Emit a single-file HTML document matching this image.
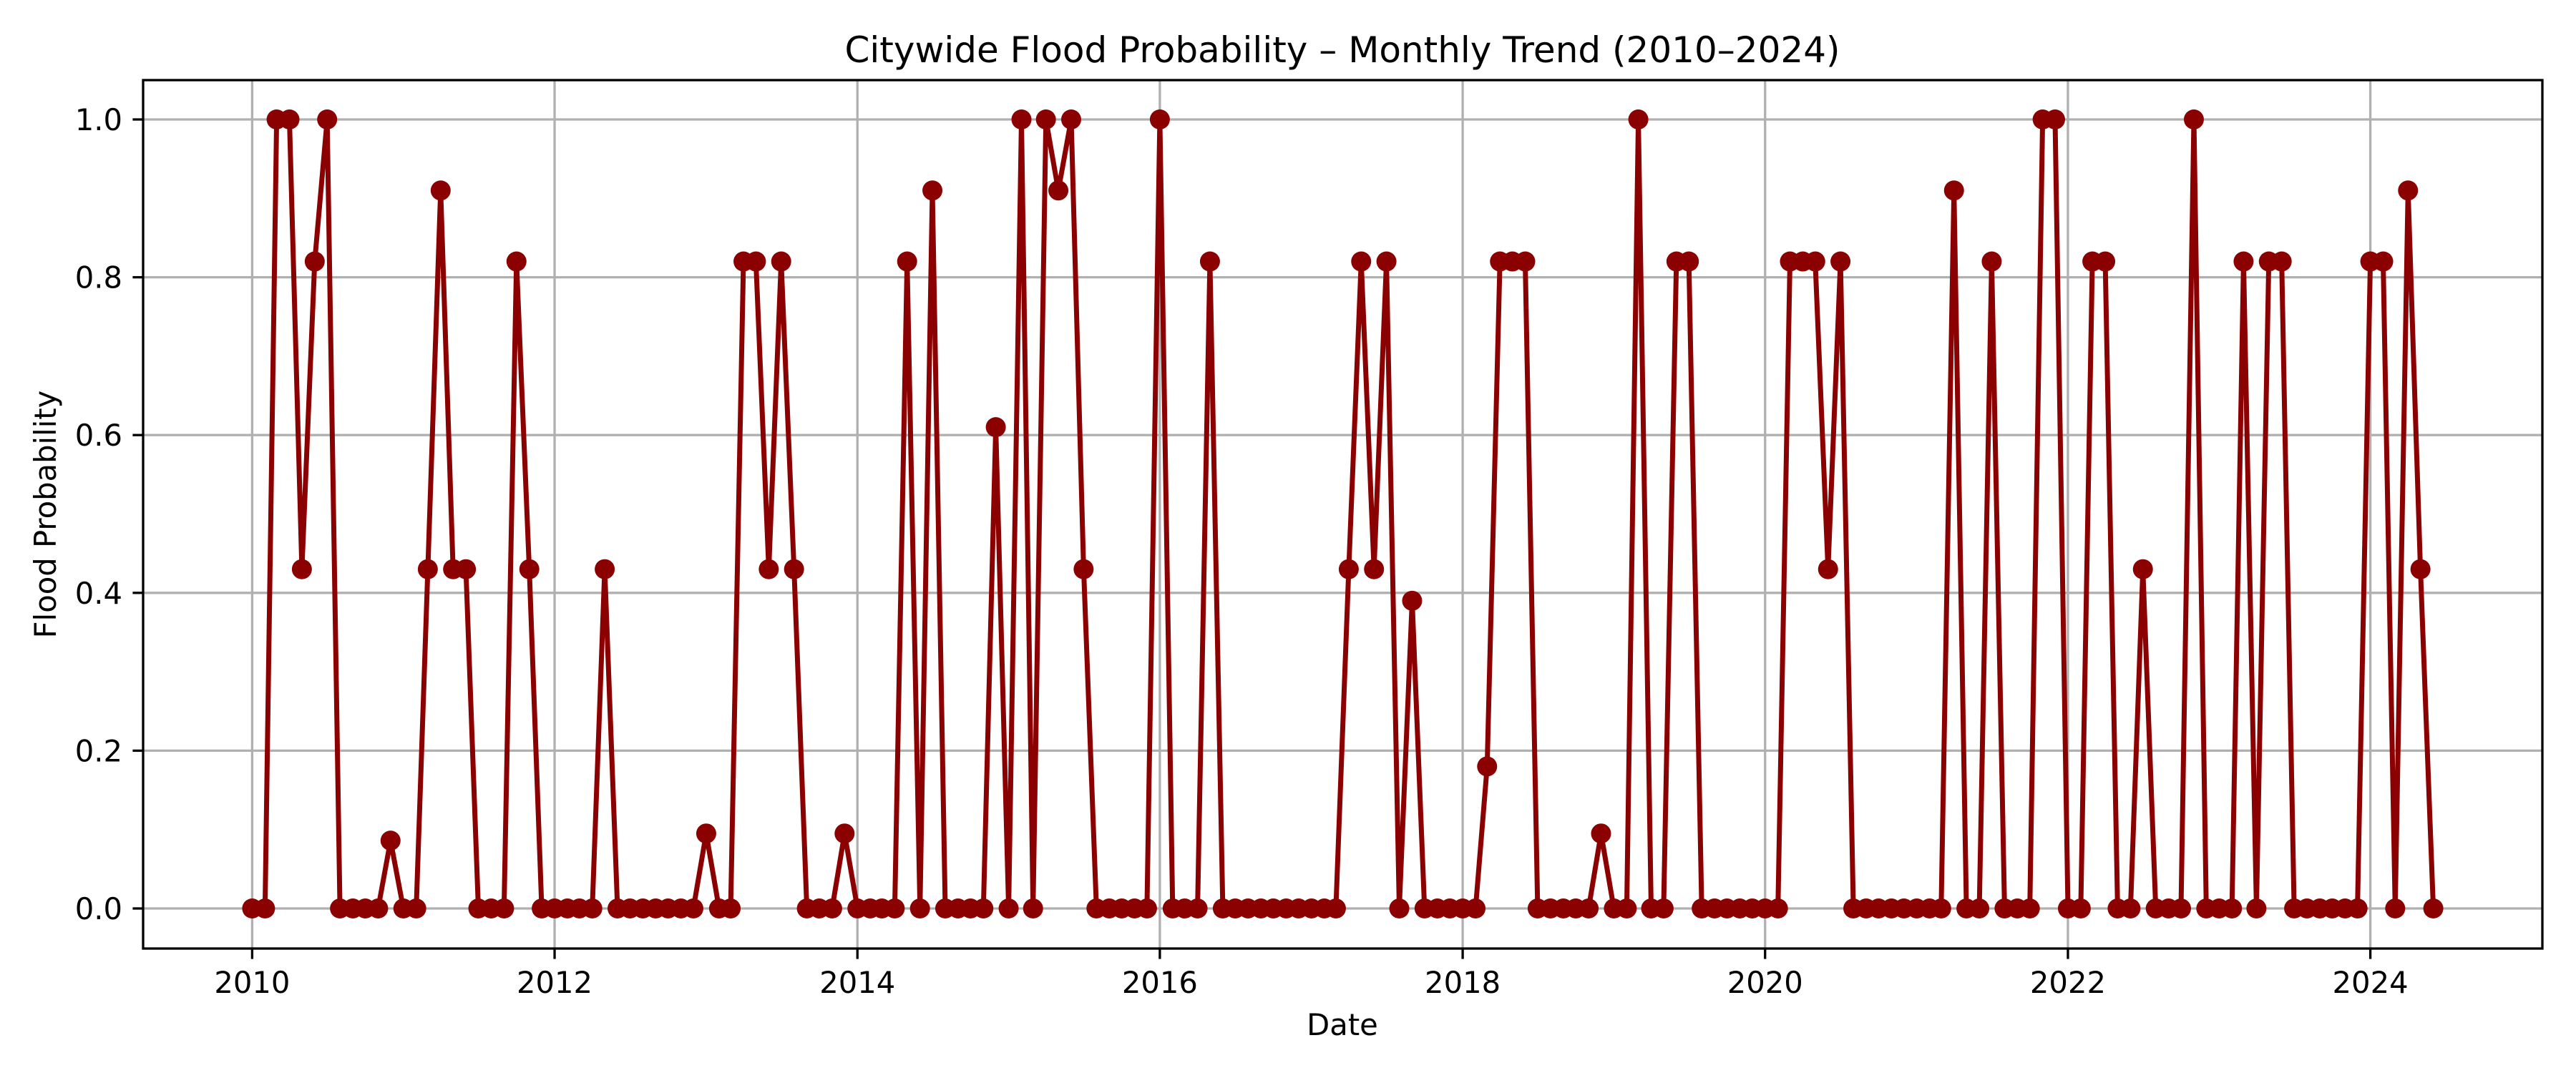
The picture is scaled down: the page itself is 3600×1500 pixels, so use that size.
<!DOCTYPE html>
<html><head><meta charset="utf-8"><style>
html,body{margin:0;padding:0;background:#fff;}
svg{display:block;}
text{font-family:"DejaVu Sans","Liberation Sans",sans-serif;fill:#000;}
</style></head><body>
<svg id="chart" width="3600" height="1500" viewBox="0 0 3600 1500" xmlns="http://www.w3.org/2000/svg">
<rect x="0" y="0" width="3600" height="1500" fill="#fff"/>
<text x="1876" y="87" font-size="50" text-anchor="middle">Citywide Flood Probability – Monthly Trend (2010–2024)</text>
<text x="1876" y="1447" font-size="41.7" text-anchor="middle">Date</text>
<text x="0" y="0" font-size="41.7" text-anchor="middle" transform="translate(78,719) rotate(-90)">Flood Probability</text>
<g id="grid"></g>
<g id="series"></g>
<g id="axes"></g>
</svg>
<script>
const startYear = 2010;
const startMonth = 1;
const values = [
0,0,1,1,0.43,0.82,1,0,0,0,0,0.086,
0,0,0.43,0.91,0.43,0.43,0,0,0,0.82,0.43,0,
0,0,0,0,0.43,0,0,0,0,0,0,0,
0.095,0,0,0.82,0.82,0.43,0.82,0.43,0,0,0,0.095,
0,0,0,0,0.82,0,0.91,0,0,0,0,0.61,
0,1,0,1,0.91,1,0.43,0,0,0,0,0,
1,0,0,0,0.82,0,0,0,0,0,0,0,
0,0,0,0.43,0.82,0.43,0.82,0,0.39,0,0,0,
0,0,0.18,0.82,0.82,0.82,0,0,0,0,0,0.095,
0,0,1,0,0,0.82,0.82,0,0,0,0,0,
0,0,0.82,0.82,0.82,0.43,0.82,0,0,0,0,0,
0,0,0,0.91,0,0,0.82,0,0,0,1,1,
0,0,0.82,0.82,0,0,0.43,0,0,0,1,0,
0,0,0.82,0,0.82,0.82,0,0,0,0,0,0,
0.82,0.82,0,0.91,0.43,0
];
const xTickYears = [2010,2012,2014,2016,2018,2020,2022,2024];
const yTicks = [0,0.2,0.4,0.6,0.8,1.0];
const yTickLabels = ["0.0","0.2","0.4","0.6","0.8","1.0"];

const L=200,R=3553,T=112,B=1326;
const NS="http://www.w3.org/2000/svg";
const DAY=86400000;
const t0=Date.UTC(startYear,startMonth-1,1);
const tEnd=Date.UTC(startYear,startMonth-1+values.length-1,1);
const span=(tEnd-t0)/DAY;
const xmin=-span*0.05, xmax=span*1.05;
function xScale(ms){const d=(ms-t0)/DAY;return L+(d-xmin)/(xmax-xmin)*(R-L);}
const y0=1270,y1=167;
function yScale(v){return y0+(y1-y0)*v;}
function mk(tag,attrs,parent){const e=document.createElementNS(NS,tag);for(const k in attrs)e.setAttribute(k,attrs[k]);parent.appendChild(e);return e;}
const grid=document.getElementById('grid'),series=document.getElementById('series'),axes=document.getElementById('axes');

xTickYears.forEach(yr=>{
  const x=xScale(Date.UTC(yr,0,1));
  const g=mk('line',{x1:x,x2:x,y1:T,y2:B,stroke:'#b0b0b0','stroke-width':3.3},grid);
  
  
  const tk=mk('line',{x1:x,x2:x,y1:B,y2:B+14.6,stroke:'#000','stroke-width':3.3},axes);
  
  
  const tx=mk('text',{x:x,y:1388,'font-size':41.7,'text-anchor':'middle'},axes);
  tx.textContent=yr;
  
  
});
yTicks.forEach((v,i)=>{
  const y=yScale(v);
  const g=mk('line',{x1:L,x2:R,y1:y,y2:y,stroke:'#b0b0b0','stroke-width':3.3},grid);
  
  
  const tk=mk('line',{x1:L-14.6,x2:L,y1:y,y2:y,stroke:'#000','stroke-width':3.3},axes);
  
  
  const tx=mk('text',{x:L-29,y:y+15,'font-size':41.7,'text-anchor':'end'},axes);
  tx.textContent=yTickLabels[i];
  
  
});
const frame=mk('rect',{x:L,y:T,width:R-L,height:B-T,fill:'none',stroke:'#000','stroke-width':3.3},axes);



const pts=values.map((v,i)=>[xScale(Date.UTC(startYear,startMonth-1+i,1)),yScale(v)]);
const line=mk('polyline',{points:pts.map(p=>p[0].toFixed(1)+','+p[1].toFixed(1)).join(' '),fill:'none',stroke:'#8b0000','stroke-width':7,'stroke-linejoin':'round'},series);


pts.forEach((p,i)=>{
  const c=mk('circle',{cx:p[0],cy:p[1],r:14,fill:'#8b0000'},series);
  
  
});
</script>
</body></html>
